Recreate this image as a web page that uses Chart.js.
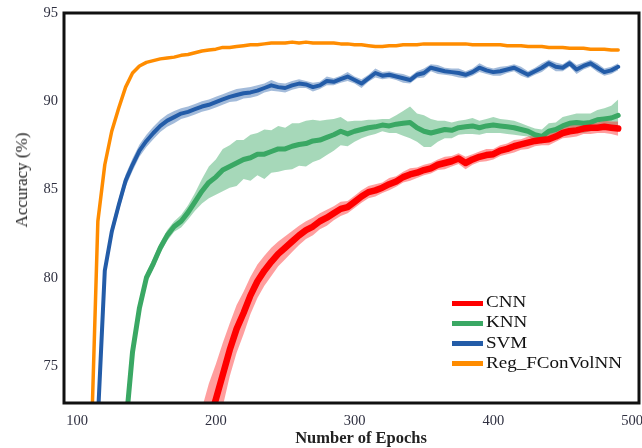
<!DOCTYPE html>
<html>
<head>
<meta charset="utf-8">
<script src="https://cdn.jsdelivr.net/npm/chart.js@4"></script>
<style>
  body { margin: 0; background: #fff; }
  #wrap { position: relative; width: 642px; height: 448px; overflow: hidden; }
  #legend { position: absolute; left: 452px; top: 292px; font-family: "Liberation Serif", serif; font-size: 17px; color: #111; }
  #legend div { height: 20.3px; line-height: 20.3px; white-space: nowrap; }
  #legend span.sw { display: inline-block; width: 31px; height: 5px; vertical-align: middle; margin-right: 3px; }
  #legend span.tx { display: inline-block; transform: scaleX(1.12); transform-origin: left center; }
  .axTitle { position: absolute; font-family: "Liberation Serif", serif; color: #222; white-space: nowrap; transform-origin: center; }
  #yTitle { left: 22px; top: 180px; font-size: 17px; transform: translate(-50%, -50%) rotate(-90deg); }
  #xTitle { left: 361px; top: 438px; font-size: 16.5px; font-weight: bold; transform: translate(-50%, -50%); }
</style>
</head>
<body>
<div id="wrap">
  <canvas id="accChart" width="642" height="448"></canvas>
  <div id="legend"></div>
  <div class="axTitle" id="yTitle">Accuracy (%)</div>
  <div class="axTitle" id="xTitle">Number of Epochs</div>
</div>
<script>
// epochs on x axis (every 5)
const epochs = [
  110,115,120,125,130,135,140,145,150,155,
  160,165,170,175,180,185,190,195,200,205,
  210,215,220,225,230,235,240,245,250,255,
  260,265,270,275,280,285,290,295,300,305,
  310,315,320,325,330,335,340,345,350,355,
  360,365,370,375,380,385,390,395,400,405,
  410,415,420,425,430,435,440,445,450,455,
  460,465,470,475,480,485,490];

const xTicks = [100, 200, 300, 400, 500];
const yTicks = [75, 80, 85, 90, 95];

// Reg_FConVolNN
const orangeAcc = [
  70, 83.2, 86.4, 88.3, 89.6, 90.8, 91.6, 92.0, 92.2, 92.3,
  92.4, 92.45, 92.5, 92.6, 92.65, 92.75, 92.85, 92.9, 92.95, 93.05,
  93.05, 93.1, 93.15, 93.2, 93.2, 93.25, 93.3, 93.3, 93.3, 93.35,
  93.3, 93.35, 93.3, 93.3, 93.3, 93.3, 93.25, 93.25, 93.2, 93.2,
  93.15, 93.1, 93.1, 93.15, 93.15, 93.2, 93.2, 93.2, 93.25, 93.25,
  93.25, 93.25, 93.25, 93.25, 93.25, 93.2, 93.2, 93.2, 93.2, 93.2,
  93.15, 93.15, 93.15, 93.1, 93.1, 93.1, 93.05, 93.05, 93.05, 93.0,
  93.0, 93.0, 92.95, 92.95, 92.95, 92.9, 92.9];

// SVM
const svmAcc = [
  null, 72.0, 80.4, 82.6, 84.1, 85.5, 86.4, 87.2, 87.75, 88.2,
  88.6, 88.9, 89.1, 89.3, 89.4, 89.55, 89.7, 89.8, 89.95, 90.1,
  90.25, 90.35, 90.45, 90.5, 90.6, 90.75, 90.9, 90.8, 90.75, 90.9,
  91.0, 90.95, 90.8, 90.9, 91.15, 91.1, 91.25, 91.4, 91.2, 91.0,
  91.3, 91.6, 91.45, 91.5, 91.4, 91.3, 91.2, 91.5, 91.6, 91.9,
  91.8, 91.7, 91.65, 91.6, 91.5, 91.65, 91.9, 91.75, 91.65, 91.7,
  91.8, 91.9, 91.7, 91.5, 91.7, 91.9, 92.15, 91.95, 91.9, 92.15,
  91.8, 92.0, 92.15, 91.9, 91.65, 91.75, 91.95];
const svmSpread = [
  null, 0.3, 0.35, 0.35, 0.35, 0.35, 0.35, 0.35, 0.35, 0.35,
  0.35, 0.35, 0.35, 0.3, 0.3, 0.3, 0.3, 0.3, 0.3, 0.3,
  0.3, 0.35, 0.3, 0.3, 0.3, 0.25, 0.3, 0.25, 0.25, 0.25,
  0.25, 0.2, 0.25, 0.2, 0.25, 0.2, 0.2, 0.25, 0.2, 0.25,
  0.2, 0.25, 0.2, 0.2, 0.2, 0.25, 0.2, 0.2, 0.25, 0.2,
  0.25, 0.2, 0.2, 0.25, 0.2, 0.2, 0.25, 0.2, 0.2, 0.25,
  0.2, 0.2, 0.25, 0.2, 0.2, 0.25, 0.2, 0.25, 0.2, 0.2,
  0.25, 0.2, 0.2, 0.25, 0.2, 0.2, 0.2];

// KNN
const knnAcc = [
  null, null, null, null, null, 71.5, 75.8, 78.3, 80.0, 80.8,
  81.7, 82.4, 82.9, 83.2, 83.7, 84.3, 84.9, 85.4, 85.7, 86.1,
  86.3, 86.5, 86.7, 86.8, 87.0, 87.0, 87.15, 87.3, 87.3, 87.45,
  87.55, 87.6, 87.75, 87.8, 87.95, 88.1, 88.3, 88.15, 88.3, 88.4,
  88.5, 88.55, 88.65, 88.6, 88.7, 88.75, 88.8, 88.5, 88.3, 88.2,
  88.3, 88.4, 88.35, 88.5, 88.55, 88.6, 88.5, 88.6, 88.65, 88.6,
  88.55, 88.5, 88.4, 88.3, 88.1, 88.0, 88.3, 88.4, 88.6, 88.75,
  88.8, 88.75, 88.8, 88.95, 89.0, 89.05, 89.2];
const knnSpread = [
  null, null, null, null, null, 0.3, 0.3, 0.3, 0.3, 0.3,
  0.3, 0.3, 0.3, 0.35, 0.4, 0.5, 0.7, 0.9, 1.0, 1.2,
  1.2, 1.3, 1.1, 1.3, 1.2, 1.4, 1.2, 1.3, 1.2, 1.3,
  1.2, 1.3, 1.2, 1.1, 1.0, 0.9, 0.8, 0.7, 0.6, 0.5,
  0.45, 0.4, 0.35, 0.4, 0.5, 0.7, 0.9, 0.8, 0.9, 0.8,
  0.6, 0.5, 0.45, 0.4, 0.4, 0.45, 0.4, 0.4, 0.45, 0.4,
  0.4, 0.4, 0.35, 0.3, 0.35, 0.4, 0.45, 0.4, 0.5, 0.45,
  0.5, 0.55, 0.5, 0.55, 0.6, 0.7, 0.9];

// CNN
const cnnAcc = [
  null, null, null, null, null, null, null, null, null, null,
  null, null, null, null, null, null, 70.3, 71.8, 73.1, 74.5,
  75.9, 77.1, 78.0, 79.0, 79.8, 80.4, 80.9, 81.35, 81.7, 82.05,
  82.4, 82.7, 82.9, 83.2, 83.4, 83.65, 83.9, 84.0, 84.3, 84.6,
  84.85, 84.95, 85.1, 85.3, 85.45, 85.7, 85.85, 85.95, 86.1, 86.2,
  86.4, 86.5, 86.6, 86.75, 86.5, 86.7, 86.85, 86.95, 87.0, 87.2,
  87.3, 87.45, 87.55, 87.65, 87.75, 87.8, 87.85, 88.0, 88.2, 88.3,
  88.35, 88.45, 88.5, 88.5, 88.55, 88.5, 88.45];
const cnnSpread = [
  null, null, null, null, null, null, null, null, null, null,
  null, null, null, null, null, null, 2.3, 2.2, 2.0, 1.8,
  1.5, 1.35, 1.2, 1.05, 0.95, 0.85, 0.8, 0.7, 0.65, 0.6,
  0.55, 0.5, 0.5, 0.45, 0.45, 0.4, 0.4, 0.35, 0.35, 0.35,
  0.35, 0.35, 0.3, 0.35, 0.3, 0.3, 0.35, 0.3, 0.3, 0.3,
  0.3, 0.35, 0.3, 0.3, 0.35, 0.3, 0.3, 0.35, 0.3, 0.3,
  0.3, 0.35, 0.3, 0.35, 0.3, 0.3, 0.35, 0.3, 0.3, 0.35,
  0.35, 0.3, 0.35, 0.3, 0.35, 0.35, 0.4];

const series = [
  { name: 'CNN', acc: cnnAcc, spread: cnnSpread, color: 'rgb(255,0,0)', band: 'rgba(255,40,40,0.45)', width: 6.5 },
  { name: 'KNN', acc: knnAcc, spread: knnSpread, color: 'rgb(58,168,100)', band: 'rgba(58,168,100,0.45)', width: 5 },
  { name: 'SVM', acc: svmAcc, spread: svmSpread, color: 'rgb(35,92,168)', band: 'rgba(35,92,168,0.42)', width: 4 },
  { name: 'Reg_FConVolNN', acc: orangeAcc, spread: null, color: 'rgb(255,140,0)', band: null, width: 3.5 }
];

function pts(vals, spread, sign) {
  return epochs.map((e, i) => ({
    x: e,
    y: vals[i] == null ? null : vals[i] + (spread ? sign * spread[i] : 0)
  }));
}

const datasets = [];
series.forEach((s, k) => {
  if (s.spread) {
    datasets.push({ data: pts(s.acc, s.spread, 1), borderWidth: 0, pointRadius: 0, fill: false, order: 10 + k });
    datasets.push({ data: pts(s.acc, s.spread, -1), borderWidth: 0, pointRadius: 0, fill: '-1', backgroundColor: s.band, order: 10 + k });
  }
  datasets.push({ label: s.name, data: pts(s.acc, null, 0), borderColor: s.color, borderWidth: s.width,
    pointRadius: 0, fill: false, tension: 0, order: k, borderJoinStyle: 'round', borderCapStyle: 'round' });
});

// legend as html
const legend = document.getElementById('legend');
series.forEach(s => {
  const row = document.createElement('div');
  row.innerHTML = '<span class="sw" style="background:' + s.color + '"></span><span class="tx">' + s.name + '</span>';
  legend.appendChild(row);
});

const frame = {
  id: 'frame',
  afterDraw(chart) {
    const a = chart.chartArea, c = chart.ctx;
    c.save();
    c.strokeStyle = '#111';
    c.lineWidth = 3;
    c.strokeRect(a.left, a.top, a.right - a.left, a.bottom - a.top);
    c.restore();
  }
};

const serif = { family: '"Liberation Serif", "Times New Roman", serif', size: 14.5 };

new Chart(document.getElementById('accChart').getContext('2d'), {
  type: 'line',
  data: { datasets: datasets },
  options: {
    responsive: false,
    animation: false,
    devicePixelRatio: 1,
    layout: { padding: { top: 13, right: 3, left: 0, bottom: 0 } },
    plugins: { legend: { display: false }, tooltip: { enabled: false } },
    scales: {
      x: {
        type: 'linear', min: 90.6, max: 505,
        afterBuildTicks: axis => { axis.ticks = xTicks.map(v => ({ value: v })); },
        afterFit: axis => { axis.height = 45; axis.paddingLeft = 0; axis.paddingRight = 0; },
        grid: { display: false, drawTicks: false },
        border: { display: false },
        ticks: { font: serif, color: '#2f3040', padding: 9 }
      },
      y: {
        min: 72.9, max: 95,
        afterBuildTicks: axis => { axis.ticks = yTicks.map(v => ({ value: v })); },
        afterFit: axis => { axis.width = 64; axis.paddingTop = 0; axis.paddingBottom = 0; },
        grid: { display: false, drawTicks: false },
        border: { display: false },
        ticks: { font: serif, color: '#2f3040', padding: 6 }
      }
    }
  },
  plugins: [frame]
});
</script>
</body>
</html>
